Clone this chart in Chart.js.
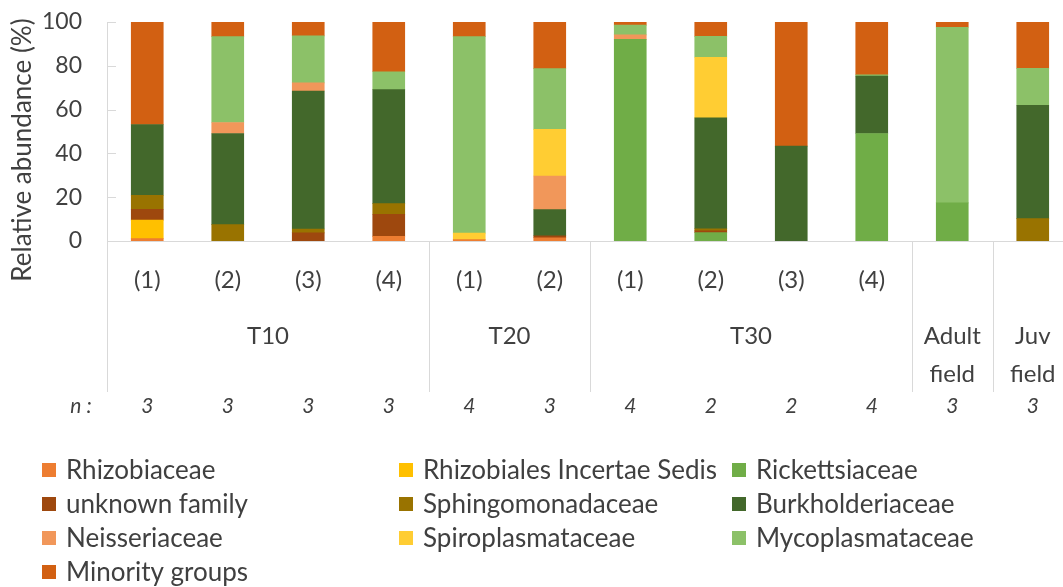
<!DOCTYPE html>
<html>
<head>
<meta charset="utf-8">
<script src="https://cdn.jsdelivr.net/npm/chart.js@4"></script>
<style>
  html, body { margin: 0; padding: 0; background: #fff; overflow: hidden; }
  #wrap { width: 1073px; height: 587px; }
</style>
</head>
<body>
<div id="wrap"><canvas id="abundanceChart" width="1073" height="587"></canvas></div>
<script>
// 샘플(막대) 라벨과 그룹
const sampleLabels = ['(1)', '(2)', '(3)', '(4)', '(1)', '(2)', '(1)', '(2)', '(3)', '(4)', '', ''];
const groupLabels = [
    { text: ['T10'], from: 0, to: 3 },
    { text: ['T20'], from: 4, to: 5 },
    { text: ['T30'], from: 6, to: 9 },
    { text: ['Adult', 'field'], from: 10, to: 10 },
    { text: ['Juv', 'field'], from: 11, to: 11 }
];
const nValues = [3, 3, 3, 3, 4, 3, 4, 2, 2, 4, 3, 3];
const yTicks = [0, 20, 40, 60, 80, 100];

// 과(family)별 상대 풍부도 (%)
const rhizobiaceae       = [1.1, 0, 0, 2.1, 0.6, 1.5, 0, 0, 0, 0, 0, 0];
const rhizobialesIS      = [8.4, 0, 0, 0, 0, 0, 0, 0, 0, 0, 0, 0];
const rickettsiaceae     = [0, 0, 0, 0, 0, 0, 92.1, 3.8, 0, 49.1, 17.4, 0];
const unknownFamily      = [5.0, 0, 3.7, 10.1, 0, 0.9, 0, 0.8, 0, 0, 0, 0];
const sphingomonadaceae  = [6.4, 7.5, 1.8, 4.9, 0, 0, 0, 1.0, 0, 0, 0, 10.2];
const burkholderiaceae   = [32.3, 41.6, 63.0, 52.0, 0, 11.9, 0, 50.6, 43.3, 26.2, 0, 51.8];
const neisseriaceae      = [0, 5.0, 3.7, 0, 0, 15.4, 2.0, 0, 0, 0, 0, 0];
const spiroplasmataceae  = [0, 0, 0, 0, 3.0, 21.3, 0, 27.7, 0, 0, 0, 0];
const mycoplasmataceae   = [0, 39.2, 21.5, 8.2, 89.7, 27.7, 4.5, 9.5, 0, 0.6, 80.2, 16.8];
const minorityGroups     = [46.8, 6.7, 6.3, 22.7, 6.7, 21.3, 1.4, 6.6, 56.7, 24.1, 2.4, 21.2];

const series = [
    { label: 'Rhizobiaceae', data: rhizobiaceae, color: '#ED7D31' },
    { label: 'Rhizobiales Incertae Sedis', data: rhizobialesIS, color: '#FFC000' },
    { label: 'Rickettsiaceae', data: rickettsiaceae, color: '#70AD47' },
    { label: 'unknown family', data: unknownFamily, color: '#9E480E' },
    { label: 'Sphingomonadaceae', data: sphingomonadaceae, color: '#997300' },
    { label: 'Burkholderiaceae', data: burkholderiaceae, color: '#43682B' },
    { label: 'Neisseriaceae', data: neisseriaceae, color: '#F1975A' },
    { label: 'Spiroplasmataceae', data: spiroplasmataceae, color: '#FFCD33' },
    { label: 'Mycoplasmataceae', data: mycoplasmataceae, color: '#8CC168' },
    { label: 'Minority groups', data: minorityGroups, color: '#D26012' }
];

const FONT = 'Lato';
const TEXT = '#404040';
const AXIS = '#D9D9D9';

// 축 아래 라벨, 구분선, 범례를 그리는 플러그인
const extrasPlugin = {
    id: 'extras',
    afterDraw(chart) {
        const ctx = chart.ctx;
        const x = chart.scales.x;
        const y = chart.scales.y;
        const area = chart.chartArea;
        ctx.save();

        // y축 제목
        ctx.fillStyle = TEXT;
        ctx.font = '26px ' + FONT;
        ctx.textAlign = 'center';
        ctx.textBaseline = 'middle';
        ctx.save();
        ctx.translate(23, 150);
        ctx.rotate(-Math.PI / 2);
        ctx.fillText('Relative abundance (%)', 0, 0);
        ctx.restore();

        // 안쪽 눈금
        ctx.strokeStyle = AXIS;
        ctx.lineWidth = 1;
        yTicks.forEach(v => {
            const py = Math.round(y.getPixelForValue(v)) + 0.5;
            ctx.beginPath();
            ctx.moveTo(area.left, py);
            ctx.lineTo(area.left + 9, py);
            ctx.stroke();
        });

        // 그룹 구분선
        const seps = [area.left];
        groupLabels.forEach((g, i) => {
            if (i > 0) seps.push((x.getPixelForValue(g.from - 1) + x.getPixelForValue(g.from)) / 2);
        });
        seps.forEach(sx => {
            const px = Math.round(sx) + 0.5;
            ctx.beginPath();
            ctx.moveTo(px, area.bottom);
            ctx.lineTo(px, 392);
            ctx.stroke();
        });

        // 그룹 라벨
        ctx.fillStyle = TEXT;
        ctx.font = '24px ' + FONT;
        groupLabels.forEach(g => {
            const cx = (x.getPixelForValue(g.from) + x.getPixelForValue(g.to)) / 2;
            g.text.forEach((t, k) => ctx.fillText(t, cx, 336 + k * 38));
        });

        // n 행
        ctx.font = 'italic 21px ' + FONT;
        ctx.fillText('n :', 81, 406);
        nValues.forEach((n, i) => ctx.fillText(String(n), x.getPixelForValue(i), 406));

        // 범례 (3열)
        const colX = [42, 399, 732];
        const rowY = [470, 504, 538, 572];
        ctx.font = '26px ' + FONT;
        ctx.textAlign = 'left';
        series.forEach((s, i) => {
            const cx = colX[i % 3];
            const cy = rowY[Math.floor(i / 3)];
            ctx.fillStyle = s.color;
            ctx.fillRect(cx, cy - 7, 14, 14);
            ctx.fillStyle = TEXT;
            ctx.fillText(s.label, cx + 24, cy + 1);
        });

        ctx.restore();
    }
};

const ctx = document.getElementById('abundanceChart').getContext('2d');
const abundanceChart = new Chart(ctx, {
    type: 'bar',
    data: {
        labels: sampleLabels,
        datasets: series.map(s => ({
            label: s.label,
            // 0인 값은 그리지 않음 (얇은 선 방지)
            data: s.data.map(v => (v === 0 ? null : v)),
            backgroundColor: s.color,
            borderWidth: 0,
            barThickness: 32
        }))
    },
    options: {
        responsive: false,
        maintainAspectRatio: false,
        animation: false,
        layout: { padding: { top: 22, left: 0, right: 0, bottom: 587 - 241 - 60 } },
        scales: {
            x: {
                stacked: true,
                grid: { display: false, drawTicks: false },
                border: { display: true, color: AXIS, width: 1 },
                ticks: {
                    color: TEXT,
                    font: { family: FONT, size: 24 },
                    padding: 25,
                    maxRotation: 0,
                    autoSkip: false
                },
                afterFit(scale) { scale.height = 60; }
            },
            y: {
                stacked: true,
                min: 0,
                max: 100,
                grid: { display: false, drawTicks: false },
                border: { display: true, color: AXIS, width: 1 },
                ticks: {
                    stepSize: 20,
                    color: TEXT,
                    font: { family: FONT, size: 23 },
                    padding: 25
                },
                afterFit(scale) {
                    scale.width = 107;
                    // 라벨 여백이 위쪽을 밀어내지 않도록
                    scale.paddingTop = 0;
                    scale.paddingBottom = 0;
                }
            }
        },
        plugins: {
            legend: { display: false },
            tooltip: { enabled: false }
        }
    },
    plugins: [extrasPlugin]
});
</script>
</body>
</html>
